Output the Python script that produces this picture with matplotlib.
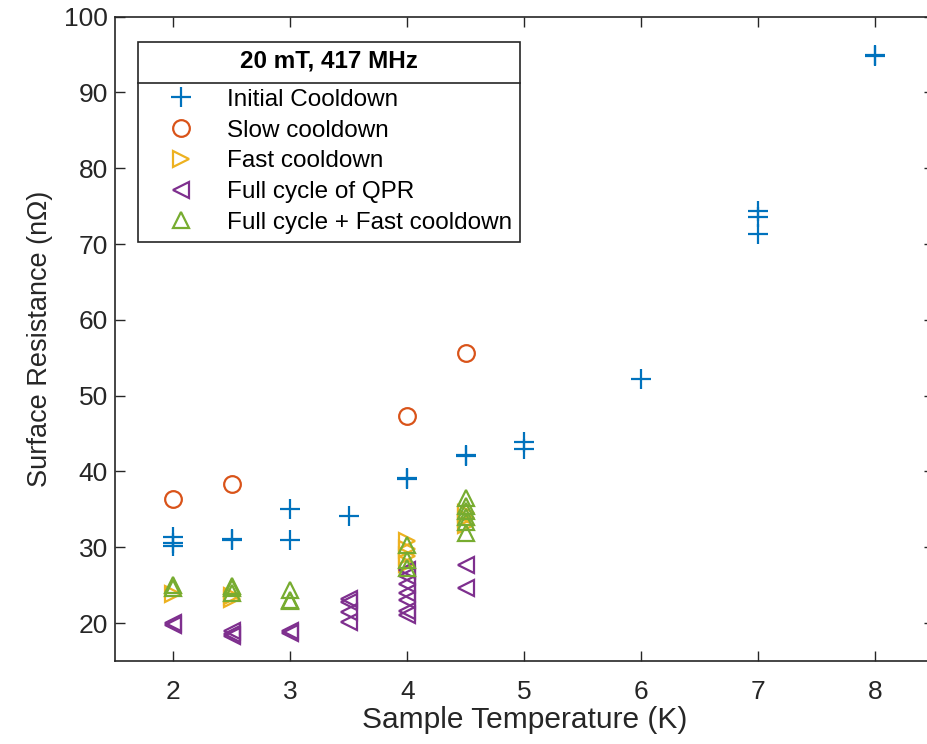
import numpy as np
import matplotlib
matplotlib.use('Agg')
import matplotlib.pyplot as plt
from matplotlib.lines import Line2D

plt.rcParams['font.family'] = ['Liberation Sans', 'DejaVu Sans']

# Initial cooldown
t_init = [2, 2, 2, 2.5, 2.5, 3, 3, 3.5, 4, 4, 4.5, 4.5, 5, 5, 6, 7, 7, 7, 8, 8]
r_init = [31.4, 30.5, 30.2, 31.0, 31.1, 35.0, 31.0, 34.1, 39.0, 39.2, 42.0, 42.2,
          43.9, 42.9, 52.2, 74.3, 73.6, 71.3, 94.8, 95.0]

# Slow cooldown
t_slow = [2, 2.5, 4, 4.5]
r_slow = [36.4, 38.3, 47.3, 55.6]

# Fast cooldown
t_fast = [2, 2.5, 2.5, 4, 4, 4, 4, 4.5, 4.5, 4.5]
r_fast = [23.9, 23.6, 23.2, 30.8, 29.8, 28.8, 27.8, 34.5, 33.8, 33.0]

# Full cycle of QPR
t_full = [2, 2, 2.5, 2.5, 2.5, 3, 3, 3.5, 3.5, 3.5, 3.5,
          4, 4, 4, 4, 4, 4, 4, 4.5, 4.5]
r_full = [19.7, 20.0, 18.3, 18.6, 18.9, 18.7, 18.9, 23.2, 22.8, 21.5, 20.2,
          27.0, 26.2, 25.2, 24.0, 23.0, 21.6, 21.1, 27.7, 24.6]

# Full cycle + fast cooldown
t_ffast = [2, 2, 2.5, 2.5, 2.5, 3, 3, 3, 4, 4, 4,
           4.5, 4.5, 4.5, 4.5, 4.5, 4.5]
r_ffast = [25.0, 24.6, 24.9, 24.6, 24.0, 24.3, 23.1, 22.9, 30.3, 28.3, 27.3,
           36.5, 35.5, 34.8, 34.0, 33.3, 31.9]

labels = ['Initial Cooldown', 'Slow cooldown', 'Fast cooldown',
          'Full cycle of QPR', 'Full cycle + Fast cooldown']
colors = ['#0072BD', '#D95319', '#EDB120', '#7E2F8E', '#77AC30']

fig = plt.figure(figsize=(9.28, 7.44), dpi=100)
ax = fig.add_axes([0.1239, 0.1116, 1.0063 - 0.1239, 0.9776 - 0.1116])

ms = 12
ax.plot(t_init, r_init, '+', color=colors[0], ms=ms + 2, mew=1.6, label=labels[0])
ax.plot(t_slow, r_slow, 'o', color=colors[1], ms=ms, mew=1.6, mfc='none', label=labels[1])
ax.plot(t_fast, r_fast, '>', color=colors[2], ms=ms, mew=1.6, mfc='none', label=labels[2])
ax.plot(t_full, r_full, '<', color=colors[3], ms=ms, mew=1.6, mfc='none', label=labels[3])
ax.plot(t_ffast, r_ffast, '^', color=colors[4], ms=ms, mew=1.6, mfc='none', label=labels[4])

ax.set_xlim(1.5, 8.5)
ax.set_ylim(15, 100)
ax.set_xticks([2, 3, 4, 5, 6, 7, 8])
ax.set_yticks(np.arange(20, 101, 10))
ax.tick_params(direction='in', length=7, width=1, labelsize=19, colors='#262626',
               top=True, right=True)
ax.tick_params(axis='x', pad=14)
ax.tick_params(axis='y', pad=5)
for s in ax.spines.values():
    s.set_color('#262626')
    s.set_linewidth(1.2)

ax.set_xlabel('Sample Temperature (K)', fontsize=21.5, color='#262626', labelpad=1)
ax.set_ylabel('Surface Resistance (n\u03a9)', fontsize=19.5, color='#262626', labelpad=8)

leg = ax.legend(loc='upper left', bbox_to_anchor=(0.028, 0.961), borderaxespad=0,
                fontsize=17.5,
                title='20 mT, 417 MHz', title_fontproperties={'weight': 'bold', 'size': 17.5},
                frameon=True, fancybox=False, edgecolor='#262626', framealpha=1,
                borderpad=0.32, labelspacing=0.36, handletextpad=0.45, handlelength=2.9)
leg.get_frame().set_linewidth(1.2)
# extra space between the title and the entries
leg._legend_box.sep = 11.7

fig.canvas.draw()
fb = leg.get_frame().get_window_extent()
tb = leg.get_title().get_window_extent()
ysep = tb.y0 - 10
inv = fig.transFigure.inverted()
x0, y0 = inv.transform((fb.x0, ysep))
x1, _ = inv.transform((fb.x1, ysep))
fig.add_artist(Line2D([x0, x1], [y0, y0], color='#262626', lw=1.2, zorder=10))

fig.savefig('out.png', dpi=100)
